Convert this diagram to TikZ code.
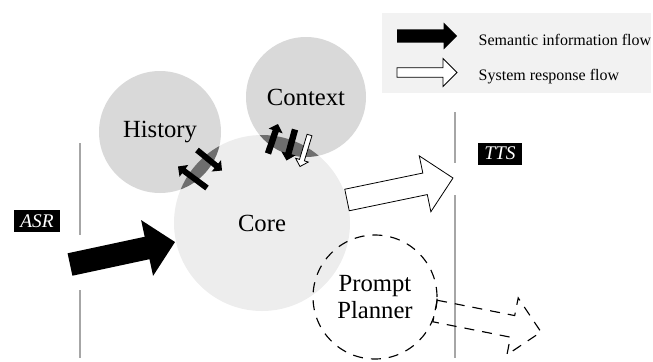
\documentclass[tikz,border=0pt]{standalone}
\usepackage{fontspec}
\setmainfont{Liberation Serif}
\usetikzlibrary{calc}

\definecolor{blobgray}{gray}{0.85}
\definecolor{coregray}{gray}{0.93}
\definecolor{lensgray}{gray}{0.43}
\definecolor{linegray}{gray}{0.65}
\definecolor{legendgray}{gray}{0.95}

% fat arrow from #2 to #3: shaft half width #4, head half width #5
\newcommand{\flowarrow}[5]{%
  \path[#1] ($(#2)!#4!90:(#3)$) -- ($(#3)!#5!(#2)!#4!-90:(#2)$)
    -- ($(#3)!#5!(#2)!#5!-90:(#2)$) -- (#3)
    -- ($(#3)!#5!(#2)!#5!90:(#2)$) -- ($(#3)!#5!(#2)!#4!90:(#2)$)
    -- ($(#2)!#4!-90:(#3)$) -- cycle;}

\tikzset{
  blob/.style={circle, inner sep=0pt, font=\fontsize{18.5}{20}\selectfont},
  semflow/.style={fill=black},
  respflow/.style={draw=black, fill=white, line width=0.6pt},
  planflow/.style={draw=black, line width=0.85pt, dash pattern=on 7.5pt off 6pt},
  channel/.style={fill=black, text=white, font=\fontsize{14.5}{16}\selectfont\itshape,
    inner xsep=4.5pt, inner ysep=3pt, text height=10pt, text depth=0.5pt},
  sideline/.style={draw=linegray, line width=1.5pt},
  legendtext/.style={anchor=base west, font=\fontsize{12}{14}\selectfont}
}

\begin{document}
\begin{tikzpicture}[x=0.75pt, y=-0.75pt]
\useasboundingbox (0,0) rectangle (653,361);

% Legend
\fill[legendgray] (382,13) rectangle (651,93);
\coordinate (sem from) at (397,36);
\coordinate (sem to) at (457,36);
\coordinate (resp from) at (397,72.5);
\coordinate (resp to) at (457,72.5);
\flowarrow{semflow}{sem from}{sem to}{5pt}{10pt}
\flowarrow{respflow}{resp from}{resp to}{3.6pt}{10.5pt}
\node[legendtext] (semlabel) at (474,45) {Semantic information flow};
\node[legendtext] (resplabel) at (474,80) {System response flow};

% Channel boundaries
\draw[sideline] (80,143) -- (80,235);
\draw[sideline] (80,290) -- (80,358);
\draw[sideline] (455,112) -- (455,163);
\draw[sideline] (455,195) -- (455,358);
\node[channel] (asr) at (37,221) {ASR};
\node[channel] (tts) at (500,153.5) {TTS};

% Modules
\node[blob, fill=blobgray, minimum size=91.5pt] (history) at (160,132) {History};
\node[blob, fill=blobgray, minimum size=90pt] (context) at (306,97) {Context};
\node[blob, fill=coregray, minimum size=132pt] (core) at (262,223) {Core};

% Overlaps
\begin{scope}
\clip (core.center) circle (66pt);
\fill[lensgray] (history.center) circle (45.75pt);
\fill[lensgray] (context.center) circle (45pt);
\end{scope}

\node[blob, draw, line width=0.85pt, dash pattern=on 7.5pt off 6pt,
  minimum size=93pt, align=center] (planner) at (375,297) {Prompt\\Planner};

% Exchanges with History and Context
\coordinate (h1 from) at (197,150);
\coordinate (h1 to) at (222,170.5);
\coordinate (h2 from) at (207,188);
\coordinate (h2 to) at (178,166.5);
\coordinate (c1 from) at (268,153.5);
\coordinate (c1 to) at (278,124);
\coordinate (c2 from) at (295,129.5);
\coordinate (c2 to) at (286.5,160.5);
\coordinate (c3 from) at (309.5,135);
\coordinate (c3 to) at (300,166.5);
\flowarrow{semflow}{h1 from}{h1 to}{2.2pt}{5.5pt}
\flowarrow{semflow}{h2 from}{h2 to}{2.2pt}{5.5pt}
\flowarrow{semflow}{c1 from}{c1 to}{2.4pt}{5.5pt}
\flowarrow{semflow}{c2 from}{c2 to}{2.4pt}{5.5pt}
\flowarrow{respflow}{c3 from}{c3 to}{1.9pt}{5pt}

% Main flows
\coordinate (asr out) at (70,264.5);
\coordinate (core in) at (175,242);
\coordinate (core out) at (347,200);
\coordinate (tts in) at (453,178);
\coordinate (planner out) at (435,311);
\coordinate (planner to) at (541,332);
\flowarrow{semflow}{asr out}{core in}{8.6pt}{21.4pt}
\flowarrow{respflow}{core out}{tts in}{8.25pt}{21.4pt}
\flowarrow{planflow}{planner out}{planner to}{8.25pt}{21.75pt}
\end{tikzpicture}
\end{document}
